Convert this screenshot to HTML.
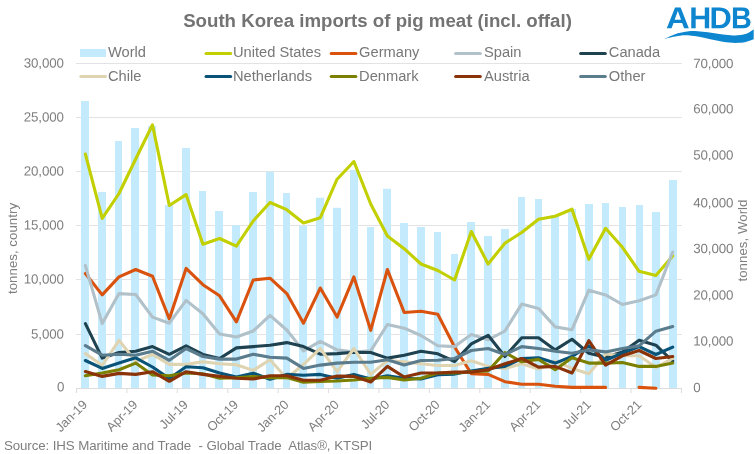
<!DOCTYPE html>
<html lang="en"><head><meta charset="utf-8"><title>South Korea imports of pig meat (incl. offal)</title>
<style>
html,body{margin:0;padding:0;background:#fff;}
body{width:755px;height:454px;overflow:hidden;font-family:"Liberation Sans",Arial,sans-serif;}
svg{display:block;}
text{font-family:"Liberation Sans",Arial,sans-serif;}
.ax{font-size:13.33px;fill:#7f7f7f;letter-spacing:-0.15px;}
.lg{font-size:14.67px;fill:#787878;}
.ln{fill:none;stroke-width:3.1;stroke-linejoin:round;stroke-linecap:round;}
</style></head><body>
<svg width="755" height="454" viewBox="0 0 755 454">
<rect width="755" height="454" fill="#ffffff"/>

<line x1="76" x2="682" y1="388.5" y2="388.5" stroke="#e3e3e3" stroke-width="1"/>
<line x1="76" x2="682" y1="334.5" y2="334.5" stroke="#e3e3e3" stroke-width="1"/>
<line x1="76" x2="682" y1="279.5" y2="279.5" stroke="#e3e3e3" stroke-width="1"/>
<line x1="76" x2="682" y1="225.5" y2="225.5" stroke="#e3e3e3" stroke-width="1"/>
<line x1="76" x2="682" y1="171.5" y2="171.5" stroke="#e3e3e3" stroke-width="1"/>
<line x1="76" x2="682" y1="117.5" y2="117.5" stroke="#e3e3e3" stroke-width="1"/>
<line x1="76" x2="682" y1="63.5" y2="63.5" stroke="#e3e3e3" stroke-width="1"/>
<g fill="#c3eafd">
<rect x="81" y="101" width="8" height="287.0"/>
<rect x="98" y="192" width="8" height="196.0"/>
<rect x="115" y="141" width="7" height="247.0"/>
<rect x="131" y="128" width="8" height="260.0"/>
<rect x="148" y="126" width="8" height="262.0"/>
<rect x="165" y="205" width="8" height="183.0"/>
<rect x="182" y="148" width="8" height="240.0"/>
<rect x="199" y="191" width="7" height="197.0"/>
<rect x="215" y="211" width="8" height="177.0"/>
<rect x="232" y="225.2" width="8" height="162.8"/>
<rect x="249" y="192" width="8" height="196.0"/>
<rect x="266" y="171.8" width="8" height="216.2"/>
<rect x="283" y="193" width="7" height="195.0"/>
<rect x="299" y="225.8" width="8" height="162.2"/>
<rect x="316" y="197.8" width="8" height="190.2"/>
<rect x="333" y="207.8" width="8" height="180.2"/>
<rect x="350" y="170" width="8" height="218.0"/>
<rect x="367" y="227" width="7" height="161.0"/>
<rect x="383" y="188.8" width="8" height="199.2"/>
<rect x="400" y="223" width="8" height="165.0"/>
<rect x="417" y="227" width="8" height="161.0"/>
<rect x="434" y="232" width="7" height="156.0"/>
<rect x="451" y="254" width="7" height="134.0"/>
<rect x="467" y="222" width="8" height="166.0"/>
<rect x="484" y="236" width="8" height="152.0"/>
<rect x="501" y="229" width="8" height="159.0"/>
<rect x="518" y="197" width="7" height="191.0"/>
<rect x="535" y="199" width="7" height="189.0"/>
<rect x="551" y="215" width="8" height="173.0"/>
<rect x="568" y="209" width="8" height="179.0"/>
<rect x="585" y="204" width="8" height="184.0"/>
<rect x="602" y="203" width="7" height="185.0"/>
<rect x="619" y="207" width="7" height="181.0"/>
<rect x="636" y="205" width="7" height="183.0"/>
<rect x="652" y="212" width="8" height="176.0"/>
<rect x="669" y="180" width="8" height="208.0"/>
</g>
<line x1="76" x2="682" y1="388.5" y2="388.5" stroke="#dcdcdc" stroke-width="1"/>
<line x1="76.5" x2="76.5" y1="388.0" y2="393.0" stroke="#dcdcdc" stroke-width="1"/>
<line x1="126.9" x2="126.9" y1="388.0" y2="393.0" stroke="#dcdcdc" stroke-width="1"/>
<line x1="177.3" x2="177.3" y1="388.0" y2="393.0" stroke="#dcdcdc" stroke-width="1"/>
<line x1="227.8" x2="227.8" y1="388.0" y2="393.0" stroke="#dcdcdc" stroke-width="1"/>
<line x1="278.2" x2="278.2" y1="388.0" y2="393.0" stroke="#dcdcdc" stroke-width="1"/>
<line x1="328.6" x2="328.6" y1="388.0" y2="393.0" stroke="#dcdcdc" stroke-width="1"/>
<line x1="379.0" x2="379.0" y1="388.0" y2="393.0" stroke="#dcdcdc" stroke-width="1"/>
<line x1="429.4" x2="429.4" y1="388.0" y2="393.0" stroke="#dcdcdc" stroke-width="1"/>
<line x1="479.8" x2="479.8" y1="388.0" y2="393.0" stroke="#dcdcdc" stroke-width="1"/>
<line x1="530.2" x2="530.2" y1="388.0" y2="393.0" stroke="#dcdcdc" stroke-width="1"/>
<line x1="580.7" x2="580.7" y1="388.0" y2="393.0" stroke="#dcdcdc" stroke-width="1"/>
<line x1="631.1" x2="631.1" y1="388.0" y2="393.0" stroke="#dcdcdc" stroke-width="1"/>
<line x1="681.5" x2="681.5" y1="388.0" y2="393.0" stroke="#dcdcdc" stroke-width="1"/>
<polyline class="ln" stroke="#c2cf00" points="85.4,154.1 102.2,218.3 119.0,193.5 135.7,159.0 152.5,124.8 169.3,205.5 186.1,194.6 202.9,244.2 219.6,238.5 236.4,246.2 253.2,221.0 270.0,202.5 286.8,209.7 303.5,223.0 320.3,217.7 337.1,179.2 353.9,161.5 370.7,204.0 387.4,236.0 404.2,248.7 421.0,264.0 437.8,270.5 454.6,280.0 471.3,231.5 488.1,264.0 504.9,243.2 521.7,232.5 538.5,219.2 555.2,216.2 572.0,209.2 588.8,259.3 605.6,228.3 622.4,247.3 639.1,271.3 655.9,275.4 672.7,256.0"/>
<polyline class="ln" stroke="#d9530f" points="85.4,273.5 102.2,294.9 119.0,276.9 135.7,269.5 152.5,276.3 169.3,319.0 186.1,268.4 202.9,284.7 219.6,295.8 236.4,321.8 253.2,280.0 270.0,278.2 286.8,293.6 303.5,323.2 320.3,288.0 337.1,317.1 353.9,276.9 370.7,330.3 387.4,269.5 404.2,312.5 421.0,311.2 437.8,314.3 454.6,347.0 471.3,373.7 488.1,374.4 504.9,381.7 521.7,384.3 538.5,384.3 555.2,386.3 572.0,387.4 588.8,387.4 605.6,387.4"/>
<polyline class="ln" stroke="#d9530f" points="639.1,387.4 655.9,388.3"/>
<polyline class="ln" stroke="#b1c1c9" points="85.4,265.6 102.2,323.6 119.0,293.6 135.7,294.5 152.5,317.1 169.3,323.2 186.1,300.4 202.9,313.8 219.6,334.0 236.4,337.0 253.2,331.0 270.0,315.3 286.8,330.0 303.5,350.9 320.3,341.3 337.1,349.9 353.9,352.0 370.7,350.9 387.4,324.5 404.2,328.2 421.0,335.5 437.8,345.7 454.6,346.6 471.3,334.6 488.1,339.8 504.9,331.0 521.7,304.1 538.5,308.4 555.2,326.9 572.0,329.7 588.8,290.2 605.6,294.9 622.4,304.5 639.1,300.8 655.9,294.9 672.7,252.0"/>
<polyline class="ln" stroke="#1f4250" points="85.4,323.6 102.2,358.1 119.0,352.5 135.7,351.2 152.5,346.6 169.3,354.3 186.1,345.9 202.9,354.5 219.6,358.5 236.4,347.9 253.2,346.6 270.0,345.2 286.8,342.6 303.5,346.6 320.3,354.2 337.1,353.6 353.9,352.3 370.7,352.5 387.4,358.1 404.2,355.2 421.0,351.2 437.8,353.8 454.6,361.5 471.3,343.9 488.1,335.3 504.9,356.5 521.7,337.7 538.5,337.7 555.2,349.9 572.0,339.3 588.8,353.2 605.6,357.2 622.4,351.9 639.1,340.3 655.9,345.2 672.7,361.1"/>
<polyline class="ln" stroke="#dfd4b1" points="85.4,353.6 102.2,365.5 119.0,340.3 135.7,361.4 152.5,354.5 169.3,364.4 186.1,364.4 202.9,361.8 219.6,363.8 236.4,364.7 253.2,370.4 270.0,359.8 286.8,378.5 303.5,364.3 320.3,348.5 337.1,371.7 353.9,348.5 370.7,374.4 387.4,360.5 404.2,361.8 421.0,363.8 437.8,365.5 454.6,365.5 471.3,360.7 488.1,366.4 504.9,368.4 521.7,363.8 538.5,369.1 555.2,361.1 572.0,368.4 588.8,373.7 605.6,354.0 622.4,355.8 639.1,355.8 655.9,367.3 672.7,358.5"/>
<polyline class="ln" stroke="#0a5378" points="85.4,360.5 102.2,368.4 119.0,363.0 135.7,357.8 152.5,367.0 169.3,378.6 186.1,366.8 202.9,367.7 219.6,373.0 236.4,377.0 253.2,373.2 270.0,379.3 286.8,374.4 303.5,375.3 320.3,374.4 337.1,378.3 353.9,374.4 370.7,379.0 387.4,375.7 404.2,378.3 421.0,379.0 437.8,374.7 454.6,374.1 471.3,371.0 488.1,368.4 504.9,366.4 521.7,358.5 538.5,357.8 555.2,363.1 572.0,356.5 588.8,345.9 605.6,360.2 622.4,353.2 639.1,346.6 655.9,354.5 672.7,347.2"/>
<polyline class="ln" stroke="#7b8000" points="85.4,375.7 102.2,373.0 119.0,369.7 135.7,363.1 152.5,375.0 169.3,375.7 186.1,373.0 202.9,373.7 219.6,378.3 236.4,377.7 253.2,376.5 270.0,377.7 286.8,377.4 303.5,382.3 320.3,381.4 337.1,381.0 353.9,380.0 370.7,378.3 387.4,377.4 404.2,380.0 421.0,378.3 437.8,373.0 454.6,373.0 471.3,371.7 488.1,371.0 504.9,352.5 521.7,361.8 538.5,359.4 555.2,369.7 572.0,357.8 588.8,363.1 605.6,363.1 622.4,362.5 639.1,366.4 655.9,366.4 672.7,363.1"/>
<polyline class="ln" stroke="#8a3208" points="85.4,371.5 102.2,376.4 119.0,373.4 135.7,374.4 152.5,371.7 169.3,381.3 186.1,371.7 202.9,374.4 219.6,376.4 236.4,378.3 253.2,379.0 270.0,375.7 286.8,375.7 303.5,380.3 320.3,380.3 337.1,376.1 353.9,376.4 370.7,382.0 387.4,366.4 404.2,377.0 421.0,373.0 437.8,373.0 454.6,372.1 471.3,372.1 488.1,369.7 504.9,363.8 521.7,358.5 538.5,367.1 555.2,366.4 572.0,373.0 588.8,340.6 605.6,365.1 622.4,355.8 639.1,350.5 655.9,358.5 672.7,356.5"/>
<polyline class="ln" stroke="#5b7c8d" points="85.4,345.6 102.2,355.2 119.0,354.2 135.7,355.2 152.5,351.2 169.3,360.3 186.1,348.5 202.9,356.5 219.6,359.1 236.4,359.1 253.2,354.3 270.0,357.2 286.8,358.1 303.5,368.4 320.3,365.1 337.1,363.1 353.9,362.2 370.7,362.2 387.4,359.8 404.2,365.1 421.0,360.5 437.8,360.3 454.6,358.5 471.3,350.5 488.1,348.5 504.9,354.5 521.7,346.6 538.5,348.5 555.2,351.2 572.0,353.2 588.8,349.9 605.6,351.9 622.4,348.5 639.1,345.9 655.9,331.2 672.7,326.5"/>
<text class="ax" transform="translate(64.3,391.2) rotate(0.03)" text-anchor="end">0</text>
<text class="ax" transform="translate(63.7,338.5) rotate(0.03)" text-anchor="end">5,000</text>
<text class="ax" transform="translate(63.7,283.5) rotate(0.03)" text-anchor="end">10,000</text>
<text class="ax" transform="translate(63.7,229.5) rotate(0.03)" text-anchor="end">15,000</text>
<text class="ax" transform="translate(63.7,175.5) rotate(0.03)" text-anchor="end">20,000</text>
<text class="ax" transform="translate(63.7,121.5) rotate(0.03)" text-anchor="end">25,000</text>
<text class="ax" transform="translate(63.7,67.5) rotate(0.03)" text-anchor="end">30,000</text>
<text class="ax" transform="translate(693.3,392.0) rotate(0.03)">0</text>
<text class="ax" transform="translate(693.3,345.4) rotate(0.03)">10,000</text>
<text class="ax" transform="translate(693.3,299.6) rotate(0.03)">20,000</text>
<text class="ax" transform="translate(693.3,253.0) rotate(0.03)">30,000</text>
<text class="ax" transform="translate(693.3,207.3) rotate(0.03)">40,000</text>
<text class="ax" transform="translate(693.3,159.5) rotate(0.03)">50,000</text>
<text class="ax" transform="translate(693.3,113.2) rotate(0.03)">60,000</text>
<text class="ax" transform="translate(693.3,68.0) rotate(0.03)">70,000</text>
<text class="ax" style="font-size:12.9px" text-anchor="end" transform="translate(87.9,405.5) rotate(-45)">Jan-19</text>
<text class="ax" style="font-size:12.9px" text-anchor="end" transform="translate(138.3,405.5) rotate(-45)">Apr-19</text>
<text class="ax" style="font-size:12.9px" text-anchor="end" transform="translate(188.7,405.5) rotate(-45)">Jul-19</text>
<text class="ax" style="font-size:12.9px" text-anchor="end" transform="translate(239.0,405.5) rotate(-45)">Oct-19</text>
<text class="ax" style="font-size:12.9px" text-anchor="end" transform="translate(289.4,405.5) rotate(-45)">Jan-20</text>
<text class="ax" style="font-size:12.9px" text-anchor="end" transform="translate(339.8,405.5) rotate(-45)">Apr-20</text>
<text class="ax" style="font-size:12.9px" text-anchor="end" transform="translate(390.2,405.5) rotate(-45)">Jul-20</text>
<text class="ax" style="font-size:12.9px" text-anchor="end" transform="translate(440.5,405.5) rotate(-45)">Oct-20</text>
<text class="ax" style="font-size:12.9px" text-anchor="end" transform="translate(490.9,405.5) rotate(-45)">Jan-21</text>
<text class="ax" style="font-size:12.9px" text-anchor="end" transform="translate(541.3,405.5) rotate(-45)">Apr-21</text>
<text class="ax" style="font-size:12.9px" text-anchor="end" transform="translate(591.7,405.5) rotate(-45)">Jul-21</text>
<text class="ax" style="font-size:12.9px" text-anchor="end" transform="translate(642.1,405.5) rotate(-45)">Oct-21</text>
<text class="ax" style="letter-spacing:0" text-anchor="middle" transform="translate(16.8,248.5) rotate(-90)">tonnes, country</text>
<text class="ax" style="letter-spacing:0" text-anchor="middle" transform="translate(747,240.5) rotate(-90)">tonnes, World</text>
<text x="377.5" y="27.2" text-anchor="middle" style="font-size:18.67px;font-weight:bold;fill:#737373">South Korea imports of pig meat (incl. offal)</text>
<rect x="80" y="49" width="26" height="8" fill="#c3eafd"/>
<text class="lg" x="108" y="57.2">World</text>
<line x1="206.0" x2="230.7" y1="53.4" y2="53.4" stroke="#c2cf00" stroke-width="3" stroke-linecap="round"/>
<text class="lg" x="233" y="57.2">United States</text>
<line x1="331.2" x2="355.9" y1="53.4" y2="53.4" stroke="#d9530f" stroke-width="3" stroke-linecap="round"/>
<text class="lg" x="359.1" y="57.2">Germany</text>
<line x1="455.6" x2="480.3" y1="53.4" y2="53.4" stroke="#b1c1c9" stroke-width="3" stroke-linecap="round"/>
<text class="lg" x="484" y="57.2">Spain</text>
<line x1="580.6" x2="605.3" y1="53.4" y2="53.4" stroke="#1f4250" stroke-width="3" stroke-linecap="round"/>
<text class="lg" x="608.8" y="57.2">Canada</text>
<line x1="80.8" x2="105.5" y1="76.6" y2="76.6" stroke="#dfd4b1" stroke-width="3" stroke-linecap="round"/>
<text class="lg" x="108" y="81.2">Chile</text>
<line x1="206.0" x2="230.7" y1="76.6" y2="76.6" stroke="#0a5378" stroke-width="3" stroke-linecap="round"/>
<text class="lg" x="233" y="81.2">Netherlands</text>
<line x1="331.2" x2="355.9" y1="76.6" y2="76.6" stroke="#7b8000" stroke-width="3" stroke-linecap="round"/>
<text class="lg" x="359.1" y="81.2">Denmark</text>
<line x1="455.6" x2="480.3" y1="76.6" y2="76.6" stroke="#8a3208" stroke-width="3" stroke-linecap="round"/>
<text class="lg" x="484" y="81.2">Austria</text>
<line x1="580.6" x2="605.3" y1="76.6" y2="76.6" stroke="#5b7c8d" stroke-width="3" stroke-linecap="round"/>
<text class="lg" x="608.8" y="81.2">Other</text>
<text x="4" y="449.6" style="font-size:13.33px;fill:#7f7f7f;letter-spacing:-0.13px;word-spacing:0.15px;white-space:pre" xml:space="preserve">Source: IHS Maritime and Trade  - Global Trade  Atlas®, KTSPI</text>
<g fill="#0d86cf">
<text transform="translate(0,27.9) rotate(0.03)" fill="#0d86cf" style="font-size:30.2px;font-weight:bold"><tspan x="666.08" textLength="23.68" lengthAdjust="spacingAndGlyphs">A</tspan><tspan x="689.16" textLength="21.99" lengthAdjust="spacingAndGlyphs">H</tspan><tspan x="709.54" textLength="22.26" lengthAdjust="spacingAndGlyphs">D</tspan><tspan x="731.07" textLength="20.84" lengthAdjust="spacingAndGlyphs">B</tspan></text>
<path d="M664.3,38.9 C666.1,38.1 671.6,35.4 675.1,34.2 C678.6,33.0 682.3,32.3 685.2,31.8 C688.1,31.3 689.8,31.1 692.7,31.1 C695.6,31.1 699.4,31.4 702.8,31.7 C706.2,32.0 709.5,32.6 712.9,33.1 C716.2,33.6 719.5,34.2 722.9,34.6 C726.2,35.0 730.1,35.3 733.0,35.4 C735.9,35.5 738.0,35.4 740.5,35.0 C743.0,34.6 745.9,34.0 748.1,33.0 C750.3,32.0 752.8,29.8 753.7,29.2 L753.7,39.3 C752.4,39.8 748.6,41.4 745.6,42.0 C742.6,42.6 739.3,42.9 735.5,42.9 C731.7,42.9 727.1,42.3 722.9,41.7 C718.7,41.1 714.5,40.1 710.3,39.2 C706.1,38.3 701.9,37.1 697.7,36.5 C693.5,35.9 689.0,35.3 685.2,35.3 C681.4,35.3 678.6,36.0 675.1,36.6 C671.6,37.2 666.1,38.6 664.3,39.0 Z"/></g>
</svg></body></html>
